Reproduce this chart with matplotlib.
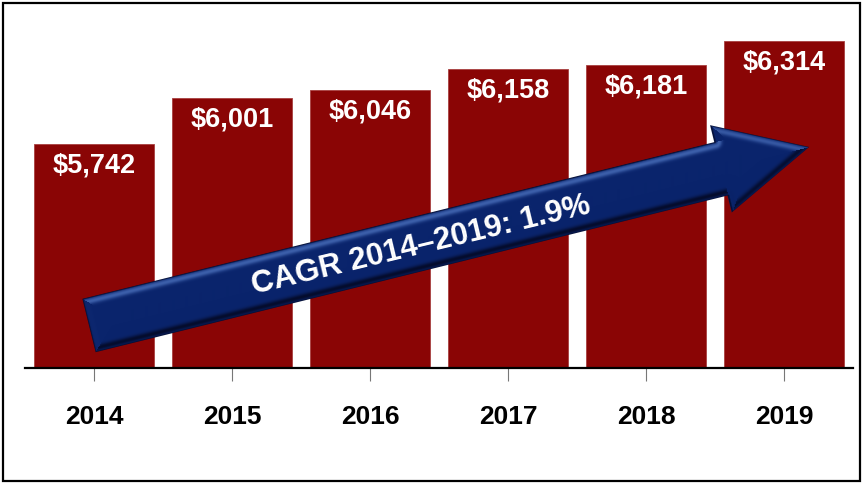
import numpy as np
import matplotlib
matplotlib.use("Agg")
import matplotlib.pyplot as plt
from matplotlib.patches import Polygon, Rectangle

plt.rcParams['font.family'] = ['Liberation Sans', 'DejaVu Sans']

years = ['2014', '2015', '2016', '2017', '2018', '2019']
values = [5742, 6001, 6046, 6158, 6181, 6314]
cagr_text = 'CAGR 2014\u20132019: 1.9%'

W, H = 863, 483
fig = plt.figure(figsize=(W / 100, H / 100), dpi=100)

# bar chart area, in pixels: x 25..853, baseline at y=368
ax = fig.add_axes([25 / W, (H - 368) / H, 828 / W, 358 / H])
x = np.arange(len(years))
ax.bar(x, values, width=0.875, color='#8a0505', edgecolor='#a84040', linewidth=0.6, zorder=2)
ax.set_xlim(-0.5, 5.5)
ax.set_ylim(4500, 6488)
for xi, v in zip(x, values):
    ax.annotate(f'${v:,}', (xi, v), xytext=(0, -15.5), textcoords='offset points',
                ha='center', va='center', color='white', fontsize=19.5, fontweight='bold', zorder=3)

ax.set_xticks(x)
ax.set_xticklabels(years, fontsize=19, fontweight='bold')
ax.tick_params(axis='x', length=9.5, width=0.8, color='#777777', pad=17)
ax.set_yticks([])
for side in ['left', 'right', 'top']:
    ax.spines[side].set_visible(False)
ax.spines['bottom'].set_linewidth(1.6)
ax.spines['bottom'].set_color('black')

# overlay in pixel coordinates for the arrow and the frame
ov = fig.add_axes([0, 0, 1, 1])
ov.set_xlim(0, W)
ov.set_ylim(H, 0)
ov.axis('off')
ov.patch.set_alpha(0)

# arrow outline in local (along, across) coordinates
origin = np.array([89.0, 325.5])
u = np.array([720.0, -178.5])
u /= np.linalg.norm(u)
n = np.array([-u[1], u[0]])
w, hw, L1, L = 27.5, 45.0, 651.0, 742.0
local = np.array([[0, -w], [L1, -w], [L1, -hw], [L, 0], [L1, hw], [L1, w], [0, w]])
pts = origin + local[:, :1] * u + local[:, 1:] * n

# bevel shading from distance to the outline
yy, xx = np.mgrid[0:H, 0:W] + 0.5
P = np.stack([xx, yy], axis=-1)
dist = np.full((H, W), np.inf)
shade_dir = np.zeros((H, W))
light = np.array([-0.3, -1.0])
light /= np.linalg.norm(light)
for i in range(len(pts)):
    a, b = pts[i], pts[(i + 1) % len(pts)]
    ab = b - a
    t = np.clip(((P - a) @ ab) / (ab @ ab), 0, 1)
    proj = a + t[..., None] * ab
    d = np.linalg.norm(P - proj, axis=-1)
    en = np.array([ab[1], -ab[0]]) / np.linalg.norm(ab)
    if en @ (pts.mean(axis=0) - a) > 0:
        en = -en
    closer = d < dist
    dist = np.where(closer, d, dist)
    shade_dir = np.where(closer, en @ light, shade_dir)

base = np.array([10, 36, 108]) / 255
hi = np.array([60, 95, 170]) / 255
lo = np.array([4, 12, 45]) / 255
rim = np.exp(-((dist - 4.0) / 3.0) ** 2)
k = (rim * shade_dir)[..., None]
img = base + np.where(k > 0, k * (hi - base), -k * (lo - base))
edge = np.clip(1 - dist / 1.5, 0, 1)[..., None]
img = img * (1 - edge) + lo * edge
img = np.clip(img, 0, 1)

arrow = Polygon(pts, closed=True, facecolor='none', edgecolor='none')
ov.add_patch(arrow)
im = ov.imshow(img, extent=(0, W, H, 0), interpolation='bilinear', zorder=4)
im.set_clip_path(arrow)

ov.text(421, 246, cagr_text, rotation=13.5, rotation_mode='anchor', ha='center', va='center',
        color='white', fontsize=22.5, fontweight='bold', zorder=5)

ov.add_patch(Rectangle((3, 3), W - 6, H - 5, fill=False, edgecolor='black', linewidth=1.6, zorder=6))

fig.savefig('out.png', dpi=100)
